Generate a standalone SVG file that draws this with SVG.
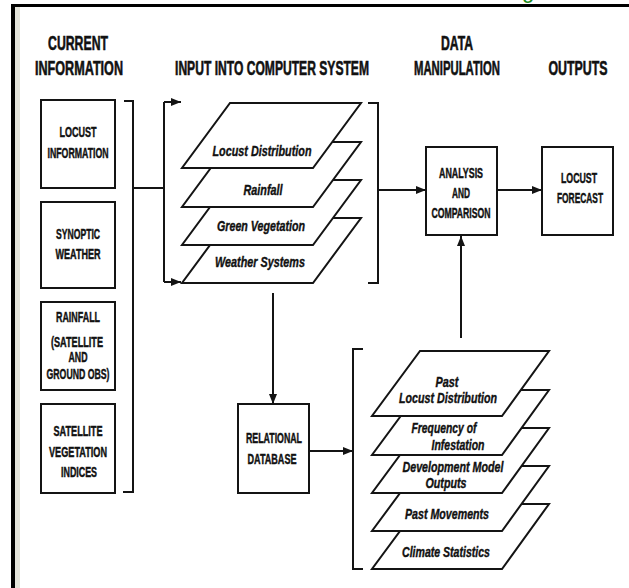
<svg xmlns="http://www.w3.org/2000/svg" width="629" height="588" viewBox="0 0 629 588">
<defs>
<style>
.ln{fill:none;stroke:#141414;stroke-width:2}
.bx{fill:#fff;stroke:#141414;stroke-width:2}
.pg{fill:#fff;stroke:#141414;stroke-width:2;stroke-linejoin:miter}
.hd{font-family:"Liberation Sans",Arial,sans-serif;font-weight:bold;font-size:20px;fill:#111;stroke:#111;stroke-width:0.6;text-anchor:middle}
.lb{font-family:"Liberation Sans",Arial,sans-serif;font-weight:bold;font-size:14px;fill:#111;stroke:#111;stroke-width:0.45;text-anchor:middle}
.it{font-family:"Liberation Sans",Arial,sans-serif;font-weight:bold;font-style:italic;font-size:14.5px;fill:#111;stroke:#111;stroke-width:0.4;text-anchor:middle}
</style>
<marker id="ah" viewBox="0 0 10 8" refX="10" refY="4" markerWidth="10" markerHeight="8" markerUnits="userSpaceOnUse" orient="auto">
<path d="M0,0 L10,4 L0,8 z" fill="#141414"/>
</marker>
</defs>
<rect x="0" y="0" width="629" height="588" fill="#fff"/>
<rect x="15" y="7" width="5" height="581" fill="#e4e4da"/>
<rect x="11" y="4" width="618" height="3" fill="#000"/>
<rect x="11" y="4" width="4" height="584" fill="#000"/>
<text x="522" y="-2" font-family="Liberation Sans,Arial,sans-serif" font-size="22" fill="#1a8a1a">g</text>

<g id="headers">
<text class="hd" transform="translate(78,50) scale(0.63,1)" textLength="95.2" lengthAdjust="spacingAndGlyphs">CURRENT</text>
<text class="hd" transform="translate(79,75) scale(0.63,1)" textLength="139.7" lengthAdjust="spacingAndGlyphs">INFORMATION</text>
<text class="hd" transform="translate(272,75) scale(0.63,1)" textLength="307.9" lengthAdjust="spacingAndGlyphs">INPUT INTO COMPUTER SYSTEM</text>
<text class="hd" transform="translate(457,50) scale(0.63,1)" textLength="50.8" lengthAdjust="spacingAndGlyphs">DATA</text>
<text class="hd" transform="translate(457,75) scale(0.63,1)" textLength="136.5" lengthAdjust="spacingAndGlyphs">MANIPULATION</text>
<text class="hd" transform="translate(578,75) scale(0.63,1)" textLength="93.7" lengthAdjust="spacingAndGlyphs">OUTPUTS</text>
</g>

<g id="connectors">
<path class="ln" d="M124,101 H133 V492 H123"/>
<path class="ln" d="M133,188 H164"/>
<path class="ln" d="M164,102 V282"/>
<path class="ln" d="M164,102 H181" marker-end="url(#ah)"/>
<path class="ln" d="M164,282 H181" marker-end="url(#ah)"/>
<path class="ln" d="M368,103 H378 V283 H368"/>
<path class="ln" d="M378,190 H426" marker-end="url(#ah)"/>
<path class="ln" d="M497,190 H542" marker-end="url(#ah)"/>
<path class="ln" d="M273,293 V404" marker-end="url(#ah)"/>
<path class="ln" d="M309,451 H353" marker-end="url(#ah)"/>
<path class="ln" d="M363,349 H353 V569 H363"/>
<path class="ln" d="M461,338 V236" marker-end="url(#ah)"/>
</g>

<g id="locust-information">
<rect class="bx" x="41" y="100" width="74" height="88"/>
<text class="lb" transform="translate(78,137) scale(0.62,1)" textLength="59.7" lengthAdjust="spacingAndGlyphs">LOCUST</text>
<text class="lb" transform="translate(78,158) scale(0.62,1)" textLength="98.4" lengthAdjust="spacingAndGlyphs">INFORMATION</text>
</g>
<g id="synoptic-weather">
<rect class="bx" x="41" y="202" width="74" height="86"/>
<text class="lb" transform="translate(78,239) scale(0.62,1)" textLength="71" lengthAdjust="spacingAndGlyphs">SYNOPTIC</text>
<text class="lb" transform="translate(78,259) scale(0.62,1)" textLength="72.6" lengthAdjust="spacingAndGlyphs">WEATHER</text>
</g>
<g id="rainfall-obs">
<rect class="bx" x="41" y="302" width="74" height="88"/>
<text class="lb" transform="translate(78,322) scale(0.62,1)" textLength="71" lengthAdjust="spacingAndGlyphs">RAINFALL</text>
<text class="lb" transform="translate(77,347) scale(0.62,1)" textLength="83.9" lengthAdjust="spacingAndGlyphs">(SATELLITE</text>
<text class="lb" transform="translate(78,362) scale(0.62,1)" textLength="30.6" lengthAdjust="spacingAndGlyphs">AND</text>
<text class="lb" transform="translate(78,379) scale(0.62,1)" textLength="101.6" lengthAdjust="spacingAndGlyphs">GROUND OBS)</text>
</g>
<g id="satellite-vegetation">
<rect class="bx" x="41" y="404" width="74" height="89"/>
<text class="lb" transform="translate(78,436) scale(0.62,1)" textLength="79" lengthAdjust="spacingAndGlyphs">SATELLITE</text>
<text class="lb" transform="translate(78,457) scale(0.62,1)" textLength="93.5" lengthAdjust="spacingAndGlyphs">VEGETATION</text>
<text class="lb" transform="translate(79,477) scale(0.62,1)" textLength="58.1" lengthAdjust="spacingAndGlyphs">INDICES</text>
</g>

<g id="input-layers">
<g id="weather-systems">
<polygon class="pg" points="230,218 361,218 313,283 182,283"/>
<text class="it" transform="translate(260,267) scale(0.72,1)" textLength="125" lengthAdjust="spacingAndGlyphs">Weather Systems</text>
</g>
<g id="green-vegetation">
<polygon class="pg" points="230,180 361,180 313,245 182,245"/>
<text class="it" transform="translate(261,231) scale(0.72,1)" textLength="122.2" lengthAdjust="spacingAndGlyphs">Green Vegetation</text>
</g>
<g id="rainfall-layer">
<polygon class="pg" points="230,142 361,142 313,207 182,207"/>
<text class="it" transform="translate(263,195) scale(0.72,1)" textLength="54.2" lengthAdjust="spacingAndGlyphs">Rainfall</text>
</g>
<g id="locust-distribution">
<polygon class="pg" points="230,103 361,103 313,168 182,168"/>
<text class="it" transform="translate(262,156) scale(0.72,1)" textLength="137.5" lengthAdjust="spacingAndGlyphs">Locust Distribution</text>
</g>
</g>

<g id="analysis-comparison">
<rect class="bx" x="426" y="147" width="71" height="88"/>
<text class="lb" transform="translate(461,178) scale(0.62,1)" textLength="71" lengthAdjust="spacingAndGlyphs">ANALYSIS</text>
<text class="lb" transform="translate(461,198) scale(0.62,1)" textLength="29" lengthAdjust="spacingAndGlyphs">AND</text>
<text class="lb" transform="translate(461,218) scale(0.62,1)" textLength="95.2" lengthAdjust="spacingAndGlyphs">COMPARISON</text>
</g>
<g id="locust-forecast">
<rect class="bx" x="542" y="147" width="71" height="88"/>
<text class="lb" transform="translate(579,183) scale(0.62,1)" textLength="58.1" lengthAdjust="spacingAndGlyphs">LOCUST</text>
<text class="lb" transform="translate(580,203) scale(0.62,1)" textLength="74.2" lengthAdjust="spacingAndGlyphs">FORECAST</text>
</g>
<g id="relational-database">
<rect class="bx" x="238" y="404" width="71" height="89"/>
<text class="lb" transform="translate(274,443) scale(0.62,1)" textLength="90.3" lengthAdjust="spacingAndGlyphs">RELATIONAL</text>
<text class="lb" transform="translate(272,464) scale(0.62,1)" textLength="79" lengthAdjust="spacingAndGlyphs">DATABASE</text>
</g>

<g id="historical-layers">
<g id="climate-statistics">
<polygon class="pg" points="420,504 549,504 502,569 372,569"/>
<text class="it" transform="translate(446,557) scale(0.72,1)" textLength="122.2" lengthAdjust="spacingAndGlyphs">Climate Statistics</text>
</g>
<g id="past-movements">
<polygon class="pg" points="420,466 549,466 502,531 372,531"/>
<text class="it" transform="translate(447,519) scale(0.72,1)" textLength="116.7" lengthAdjust="spacingAndGlyphs">Past Movements</text>
</g>
<g id="development-model">
<polygon class="pg" points="420,428 549,428 502,493 372,493"/>
<text class="it" transform="translate(453,472) scale(0.72,1)" textLength="140.3" lengthAdjust="spacingAndGlyphs">Development Model</text>
<text class="it" transform="translate(446,488) scale(0.72,1)" textLength="56.9" lengthAdjust="spacingAndGlyphs">Outputs</text>
</g>
<g id="frequency-infestation">
<polygon class="pg" points="420,390 549,390 502,455 372,455"/>
<text class="it" transform="translate(444,433) scale(0.72,1)" textLength="90.3" lengthAdjust="spacingAndGlyphs">Frequency of</text>
<text class="it" transform="translate(458,450) scale(0.72,1)" textLength="73.6" lengthAdjust="spacingAndGlyphs">Infestation</text>
</g>
<g id="past-locust-distribution">
<polygon class="pg" points="420,351 549,351 502,416 372,416"/>
<text class="it" transform="translate(447,387) scale(0.72,1)" textLength="31.9" lengthAdjust="spacingAndGlyphs">Past</text>
<text class="it" transform="translate(448,403) scale(0.72,1)" textLength="136.1" lengthAdjust="spacingAndGlyphs">Locust Distribution</text>
</g>
</g>
</svg>
